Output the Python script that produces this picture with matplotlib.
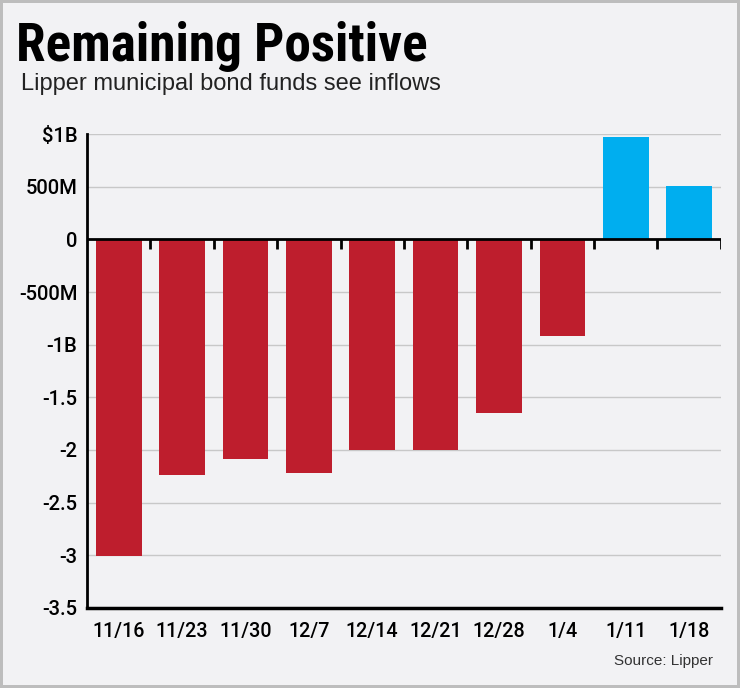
import matplotlib
matplotlib.use("Agg")
import matplotlib.pyplot as plt
import numpy as np

# weekly flows, billions of dollars
weeks = ["11/16", "11/23", "11/30", "12/7", "12/14", "12/21", "12/28", "1/4", "1/11", "1/18"]
flows = [-3.01, -2.24, -2.09, -2.22, -2.0, -2.0, -1.65, -0.92, 0.975, 0.51]
yticks = [1.0, 0.5, 0, -0.5, -1.0, -1.5, -2.0, -2.5, -3.0, -3.5]
ylabels = ["$1B", "500M", "0", "-500M", "-1B", "-1.5", "-2", "-2.5", "-3", "-3.5"]

narrow = ["Roboto Condensed", "DejaVu Sans"]
tickfont = ["Roboto", "DejaVu Sans"]
plain = ["Liberation Sans", "DejaVu Sans"]

RED = "#be1e2d"
BLUE = "#00aeef"
BG = "#f2f2f4"

fig = plt.figure(figsize=(7.4, 6.88), dpi=100, facecolor=BG)
fig.patch.set_edgecolor("#bdbdbd")
fig.patch.set_linewidth(3)

ax = fig.add_axes([0.1176, 0.1163, 0.8565, 0.6889])
ax.set_facecolor(BG)

x = np.arange(len(weeks))
colors = [BLUE if v > 0 else RED for v in flows]
ax.bar(x, flows, width=0.72, color=colors, zorder=2)

ax.set_xlim(-0.5, len(weeks) - 0.5)
ax.set_ylim(-3.5, 1.0)

# grid
for t in yticks:
    if t not in (0, -3.5):
        ax.axhline(t, color="#c8c8c8", lw=1, zorder=1)
ax.axhline(0, color="black", lw=2, zorder=3)
# little ticks hanging from the zero line between bars
ax.vlines(x[1:] - 0.5, -0.095, 0, color="black", lw=2, zorder=3)
ax.vlines([len(weeks) - 0.5], -0.095, 0, color="black", lw=2, zorder=3)

for s in ["top", "right"]:
    ax.spines[s].set_visible(False)
ax.spines["left"].set_linewidth(2)
ax.spines["bottom"].set_linewidth(2.5)

ax.set_yticks(yticks)
ax.set_yticklabels(ylabels, fontfamily=tickfont, fontweight="medium", fontsize=14.5)
ax.set_xticks(x)
ax.set_xticklabels(weeks, fontfamily=tickfont, fontweight="medium", fontsize=14.2)
ax.tick_params(axis="y", length=0, pad=7)
ax.tick_params(axis="x", length=0, pad=10)

fig.text(0.022, 0.9113, "Remaining Positive", fontfamily=narrow, fontweight="bold",
         fontsize=38.4, ha="left", va="baseline")
fig.text(0.029, 0.869, "Lipper municipal bond funds see inflows", fontfamily=plain,
         fontsize=17, ha="left", va="baseline", color="#222222")
fig.text(0.964, 0.0334, "Source: Lipper", fontfamily=plain, fontsize=11,
         ha="right", va="baseline", color="#333333")

fig.savefig("out.png", dpi=100, facecolor=BG, edgecolor=fig.patch.get_edgecolor())
